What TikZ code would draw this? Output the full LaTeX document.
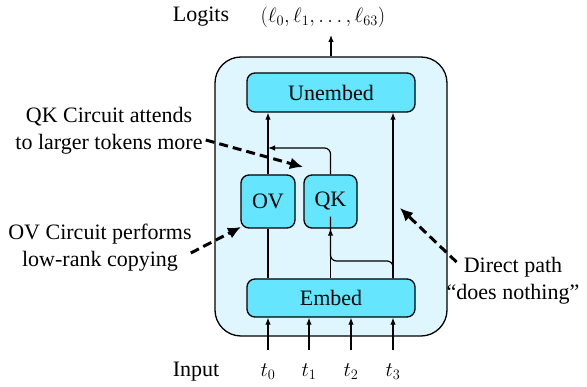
\documentclass[tikz,border=0pt]{standalone}
\usepackage{fontspec}
\setmainfont{Liberation Serif}
\usetikzlibrary{arrows.meta,calc}
\definecolor{bodyfill}{HTML}{E0F6FE}
\definecolor{blockfill}{HTML}{66E5FF}
\begin{document}
\begin{tikzpicture}[x=1pt,y=-1pt,
  font=\fontsize{22}{27}\selectfont,
  wire/.style={line width=1.2pt},
  feed/.style={wire,-{Latex[length=7pt,width=5.5pt]}},
  block/.style={draw,line width=1.3pt,fill=blockfill,rounded corners=8pt,inner sep=0pt},
  note/.style={align=center,inner sep=0pt},
  pointer/.style={line width=3pt,dash pattern=on 9pt off 5pt,-{Latex[length=13pt,width=12pt]}}]
\useasboundingbox (0,0) rectangle (587,387);

% transformer body
\node[draw,line width=1.3pt,fill=bodyfill,rounded corners=26pt,
  minimum width=232pt,minimum height=279pt,inner sep=0pt] (body) at (331,196.5) {};

% blocks
\node[block,minimum width=168pt,minimum height=39pt] (unembed) at (331,92.5) {Unembed};
\node[block,minimum width=54pt,minimum height=53pt] (ov) at (268,201.5) {OV};
\node[block,minimum width=53pt,minimum height=53pt] (qk) at (330.5,201.5) {QK};
\node[block,minimum width=168pt,minimum height=38pt] (embed) at (331,298) {Embed};

% helper points
\coordinate (dx) at (393,0);
\coordinate (qkmeet) at (268,148);
\coordinate (branch) at (393,261);
\coordinate (logout) at (331,35);

% internal wiring
\draw[feed] (ov.north) -- (ov.north |- unembed.south);
\draw[wire] (ov.south) -- (ov.south |- embed.north);
\draw[feed] (qk.south |- embed.north) -- (qk.south);
\draw[feed] (dx |- embed.north) -- (dx |- unembed.south);
\draw[wire,rounded corners=6pt] (dx |- embed.north) -- (branch) -| ([yshift=12pt]qk.south);
\draw[feed,rounded corners=6pt] (qk.north) |- (qkmeet);

% output
\draw[feed] (body.north) -- (logout);
\node (logits) at (201,17) {Logits};
\node (ells) at (323,17) {$(\ell_0,\ell_1,\ldots,\ell_{63})$};

% inputs
\node (input) at (196,372) {Input};
\foreach \i/\x in {0/268,1/309,2/351,3/393}{
  \node (t\i) at (\x,372) {$t_\i$};
  \coordinate (in\i) at (\x,350);
  \draw[feed] (in\i) -- (in\i |- embed.south);
}

% annotations
\node[note] (qknote) at (109,131) {QK Circuit attends\\to larger tokens more};
\node[note] (ovnote) at (100,248) {OV Circuit performs\\low-rank copying};
\node[note] (dpnote) at (513,281) {Direct path\\“does nothing”};
\coordinate (qktip) at (303,167);
\coordinate (ovtip) at (241,227);
\coordinate (dptip) at (400,208);
\draw[pointer] ([shift={(3pt,-9pt)}]qknote.east) -- (qktip);
\draw[pointer] ([shift={(-1pt,-5pt)}]ovnote.east) -- (ovtip);
\draw[pointer] ([shift={(10pt,19pt)}]dpnote.west) -- (dptip);
\end{tikzpicture}
\end{document}
